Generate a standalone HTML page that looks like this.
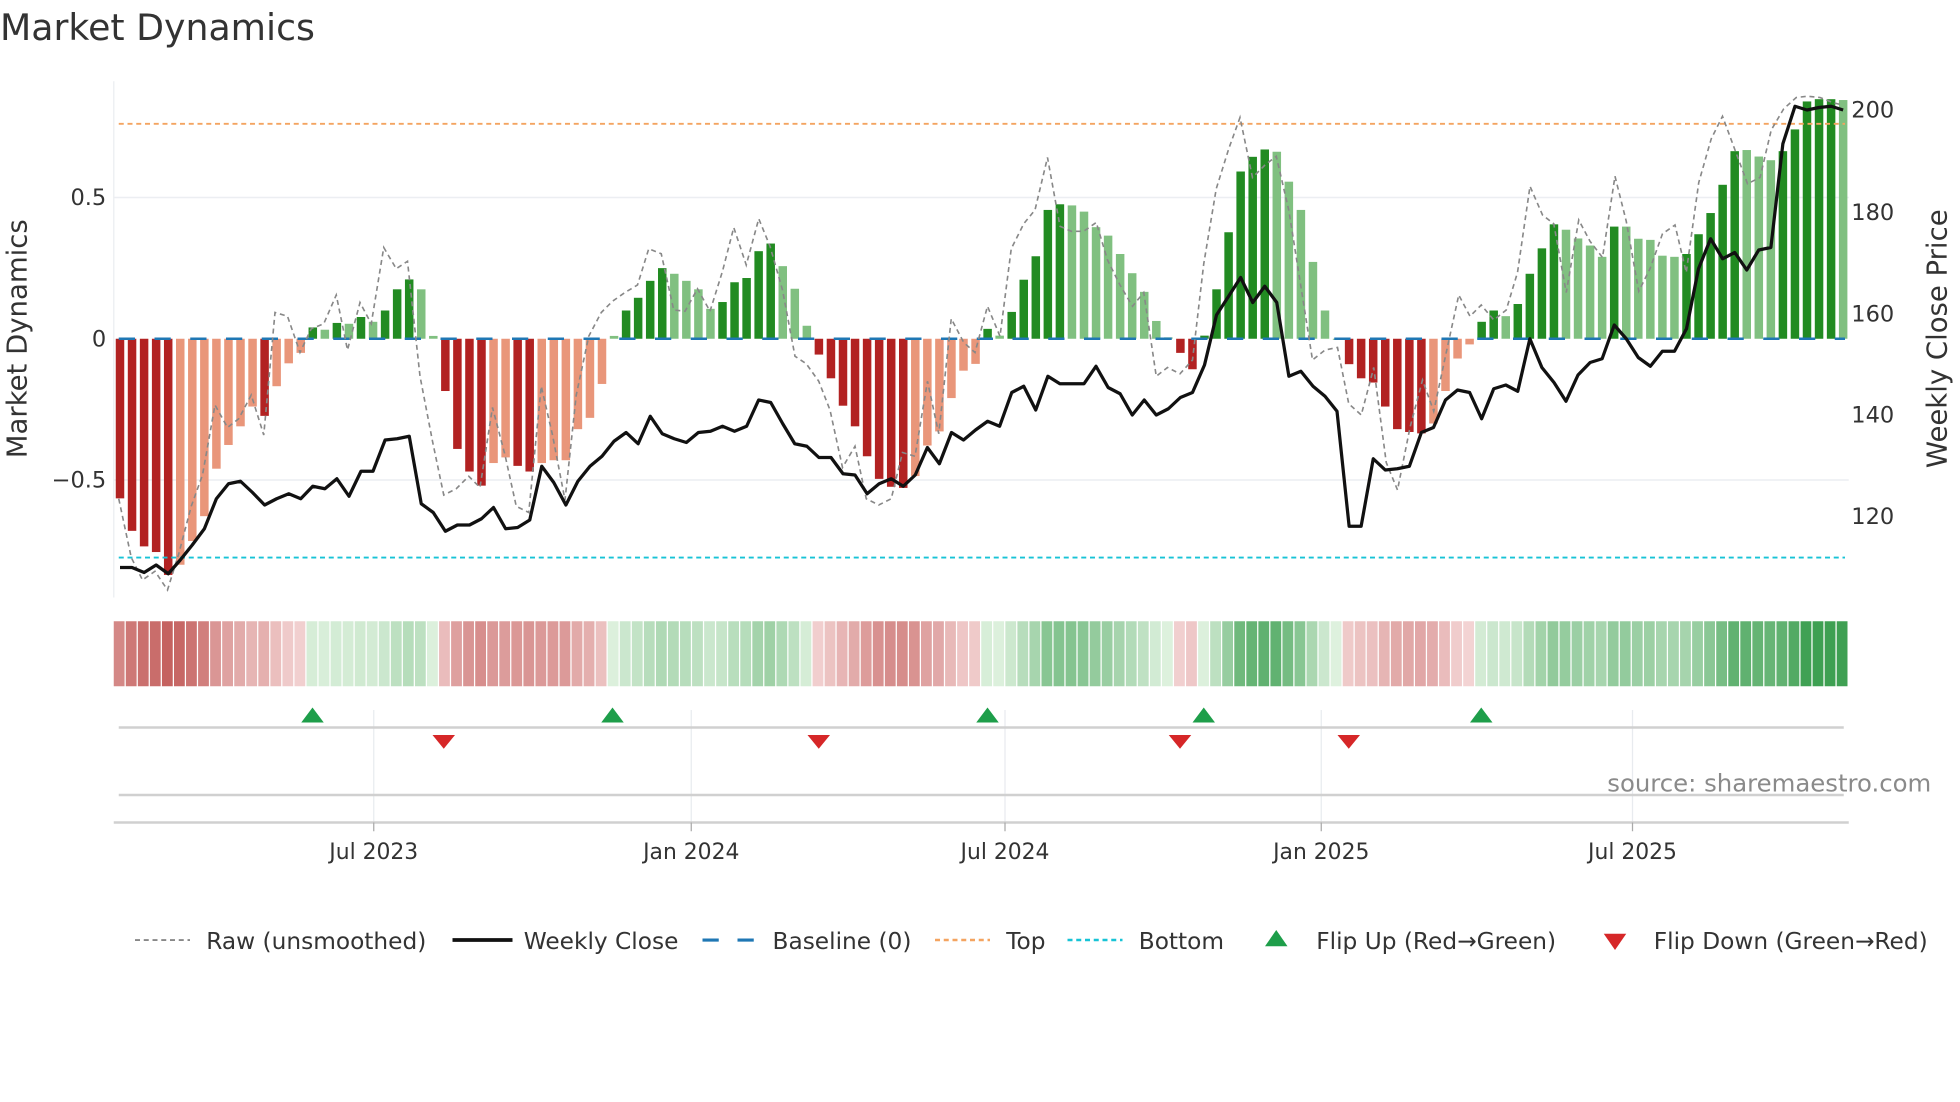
<!DOCTYPE html>
<html><head><meta charset="utf-8"><style>
html,body{margin:0;padding:0;background:#fff;}
svg{display:block;font-family:"DejaVu Sans","Liberation Sans",sans-serif;}
</style></head><body>
<svg id="s" width="1960" height="1102" viewBox="0 0 1568 881.6" xmlns="http://www.w3.org/2000/svg">
<rect width="1568" height="882" fill="#fff"/>
<text x="0" y="32" font-size="29" fill="#333">Market Dynamics</text>
<line x1="91" y1="65" x2="91" y2="478" stroke="#eef0f3" stroke-width="1.2"/>
<line x1="91" y1="158" x2="1479" y2="158" stroke="#eceef2" stroke-width="1.2"/>
<line x1="91" y1="384" x2="1479" y2="384" stroke="#eceef2" stroke-width="1.2"/>
<g id="bars"></g>
<line x1="95" y1="271" x2="1476" y2="271" stroke="#1f77b4" stroke-width="2" stroke-dasharray="13,15.6"/>
<line x1="95" y1="99" x2="1476" y2="99" stroke="#f4a460" stroke-width="1.5" stroke-dasharray="4,3"/>
<line x1="95" y1="446" x2="1476" y2="446" stroke="#17c3d6" stroke-width="1.5" stroke-dasharray="4,3"/>
<polyline id="raw" fill="none" stroke="#888" stroke-width="1.3" stroke-dasharray="4,3"/>
<polyline id="px" fill="none" stroke="#111" stroke-width="2.6" stroke-linejoin="round"/>
<g font-size="18" fill="#333">
<text x="85" y="164" text-anchor="end">0.5</text>
<text x="85" y="277" text-anchor="end">0</text>
<text x="85" y="390" text-anchor="end">−0.5</text>
<text x="1481" y="94">200</text>
<text x="1481" y="176">180</text>
<text x="1481" y="257">160</text>
<text x="1481" y="338">140</text>
<text x="1481" y="419">120</text>
</g>
<text transform="translate(21,271) rotate(-90)" text-anchor="middle" font-size="22" fill="#333">Market Dynamics</text>
<text transform="translate(1557,271) rotate(-90)" text-anchor="middle" font-size="22" fill="#333">Weekly Close Price</text>
<g id="heat"></g>
<g stroke="#e8ebef" stroke-width="1">
<line x1="299" y1="568" x2="299" y2="658"/><line x1="553" y1="568" x2="553" y2="658"/><line x1="804" y1="568" x2="804" y2="658"/><line x1="1057" y1="568" x2="1057" y2="658"/><line x1="1306" y1="568" x2="1306" y2="658"/>
</g>
<line x1="95" y1="582" x2="1475" y2="582" stroke="#d0d0d0" stroke-width="2"/>
<line x1="95" y1="636" x2="1475" y2="636" stroke="#d0d0d0" stroke-width="2"/>
<line x1="91" y1="658" x2="1479" y2="658" stroke="#d0d0d0" stroke-width="2"/>
<g stroke="#aaa" stroke-width="1">
<line x1="299" y1="658" x2="299" y2="665"/><line x1="553" y1="658" x2="553" y2="665"/><line x1="804" y1="658" x2="804" y2="665"/><line x1="1057" y1="658" x2="1057" y2="665"/><line x1="1306" y1="658" x2="1306" y2="665"/>
</g>
<g id="mk"></g>
<g font-size="17.5" fill="#333" text-anchor="middle">
<text x="299" y="687">Jul 2023</text><text x="553" y="687">Jan 2024</text><text x="804" y="687">Jul 2024</text><text x="1057" y="687">Jan 2025</text><text x="1306" y="687">Jul 2025</text>
</g>
<text x="1545" y="633" text-anchor="end" font-size="19.5" fill="#8a8a8a">source: sharemaestro.com</text>
<g font-size="18.6" fill="#333">
<line x1="108" y1="752" x2="152" y2="752" stroke="#888" stroke-width="1.5" stroke-dasharray="4,3"/>
<text x="165" y="759">Raw (unsmoothed)</text>
<line x1="362" y1="752" x2="410" y2="752" stroke="#111" stroke-width="3"/>
<text x="419" y="759">Weekly Close</text>
<line x1="562" y1="752" x2="606" y2="752" stroke="#1f77b4" stroke-width="2.5" stroke-dasharray="13,15"/>
<text x="618" y="759">Baseline (0)</text>
<line x1="748" y1="752" x2="792" y2="752" stroke="#f4a460" stroke-width="2" stroke-dasharray="4,3"/>
<text x="805" y="759">Top</text>
<line x1="854" y1="752" x2="898" y2="752" stroke="#17c3d6" stroke-width="2" stroke-dasharray="4,3"/>
<text x="911" y="759">Bottom</text>
<polygon points="1012,757 1030,757 1021,744" fill="#1e9e4a"/>
<text x="1053" y="759">Flip Up (Red→Green)</text>
<polygon points="1283,747 1301,747 1292,760" fill="#d62728"/>
<text x="1323" y="759">Flip Down (Green→Red)</text>
</g>
</svg>
<script>
var v=[-0.565,-0.68,-0.735,-0.755,-0.836,-0.80,-0.716,-0.628,-0.46,-0.376,-0.31,-0.24,-0.273,-0.168,-0.087,-0.05,0.04,0.032,0.056,0.053,0.077,0.06,0.10,0.175,0.21,0.175,0.01,-0.185,-0.39,-0.47,-0.52,-0.44,-0.42,-0.45,-0.47,-0.44,-0.43,-0.43,-0.32,-0.28,-0.16,0.01,0.10,0.145,0.205,0.25,0.23,0.205,0.175,0.106,0.13,0.20,0.215,0.31,0.337,0.257,0.177,0.046,-0.056,-0.14,-0.237,-0.31,-0.416,-0.496,-0.524,-0.528,-0.486,-0.378,-0.328,-0.21,-0.113,-0.089,0.035,0.011,0.095,0.209,0.292,0.456,0.476,0.472,0.45,0.395,0.365,0.30,0.232,0.166,0.063,0.005,-0.05,-0.108,0.011,0.175,0.377,0.592,0.644,0.67,0.662,0.556,0.456,0.272,0.10,0,-0.09,-0.14,-0.155,-0.24,-0.32,-0.33,-0.335,-0.30,-0.185,-0.07,-0.02,0.06,0.10,0.08,0.123,0.23,0.32,0.405,0.386,0.355,0.33,0.29,0.397,0.397,0.354,0.35,0.294,0.29,0.30,0.37,0.445,0.545,0.664,0.668,0.645,0.632,0.664,0.741,0.84,0.848,0.848,0.845];
var Ls=[[5,11],[13,15],[17,17],[19,19],[21,21],[25,26],[31,32],[35,41],[46,49],[55,57],[66,71],[73,73],[79,87],[96,101],[109,112],[115,115],[120,123],[125,129],[135,137],[143,143]];
function isL(i){for(var k=0;k<Ls.length;k++)if(i>=Ls[k][0]&&i<=Ls[k][1])return true;return false;}
var py=[454,454,458,452,459,448,436,423,399,387,385,394,404,399,395,399,389,391,383,397,377,377,352,351,349,403,410,425,420,420,415,406,423,422,416,373,386,404,385,373,365,353,346,355,333,347,351,354,346,345,341,345,341,320,322,339,355,357,366,366,379,380,395,387,383,389,380,358,371,346,352,344,337,341,314,309,328,301,307,307,307,293,310,315,332,320,332,327,318,314,292,252,237,222,242,229,242,301,297,309,317,329,421,421,367,376,375,373,346,342,320,312,314,335,311,308,313,271,294,306,321,300,290,287,260,271,286,293,281,281,263,215,191,207,202,216,200,198,115,85,88,86,85,88];
var raw=[95,399,105,446,114,464,124,457,134,472,143,443,153,405,162,380,172,324,182,342,191,335,201,316,211,348,220,250,230,253,240,282,249,263,259,259,269,236,278,280,288,242,297,259,307,198,317,215,326,209,336,301,346,353,355,396,365,391,375,381,384,390,394,326,404,364,413,405,423,410,433,309,442,348,452,400,461,316,471,269,481,250,490,241,500,234,510,228,519,199,529,203,539,248,548,249,558,231,568,249,578,217,587,182,597,212,607,175,616,197,626,232,636,285,645,291,655,305,664,328,674,374,684,357,693,399,703,404,713,399,722,362,732,365,742,305,751,347,761,255,771,274,780,282,790,245,800,269,809,199,819,179,828,168,838,126,848,181,857,185,867,185,877,178,886,208,896,228,906,245,915,234,925,301,934,294,944,299,954,288,963,211,973,151,983,119,992,94,1002,142,1012,132,1021,125,1031,168,1041,231,1050,288,1060,280,1070,278,1079,323,1089,332,1099,294,1109,370,1118,392,1128,342,1138,304,1147,329,1157,282,1167,236,1176,253,1185,244,1195,256,1205,248,1214,218,1224,149,1234,172,1243,179,1253,234,1263,176,1272,193,1282,206,1292,141,1301,177,1311,233,1320,215,1330,187,1340,180,1349,218,1359,146,1369,111,1378,93,1388,120,1398,147,1408,142,1417,104,1427,87,1437,78,1446,77,1456,78,1466,82,1474,84];
var NS="http://www.w3.org/2000/svg";
function el(n,a,p){var e=document.createElementNS(NS,n);for(var k in a)e.setAttribute(k,a[k]);p.appendChild(e);return e;}
var bars=document.getElementById('bars'),heat=document.getElementById('heat');
var step=9.64,x0=96;
function mix(a,b,t){return 'rgb('+[0,1,2].map(function(k){return Math.round(a[k]+(b[k]-a[k])*t);}).join(',')+')';}
for(var i=0;i<v.length;i++){
 var cx=x0+step*i,h=v[i]*226,l=isL(i);
 var col=v[i]>=0?(l?'#80c080':'#228b22'):(l?'#e9967a':'#b22222');
 var y=h>=0?271-h:271;
 el('rect',{x:cx-3.4,y:y,width:6.8,height:Math.max(Math.abs(h),0.8),fill:col},bars);
 var t=Math.min(Math.abs(v[i])/0.85,1);
 var hc=v[i]>=0?mix([222,241,222],[62,160,82],t):mix([244,214,214],[196,96,94],t);
 var hx=91+i*(1388/144);
 el('rect',{x:hx,y:497,width:1388/144-1,height:52,fill:hc},heat);
}
var pts=[];for(var i=0;i<py.length;i++)pts.push((x0+step*i).toFixed(1)+','+py[i]);
document.getElementById('px').setAttribute('points',pts.join(' '));
var rp=[];for(var i=0;i<raw.length;i+=2)rp.push(raw[i]+','+raw[i+1]);
document.getElementById('raw').setAttribute('points',rp.join(' '));
var mk=document.getElementById('mk');
[250,490,790,963,1185].forEach(function(x){el('polygon',{points:(x-9)+',578 '+(x+9)+',578 '+x+',566',fill:'#1e9e4a'},mk);});
[355,655,944,1079].forEach(function(x){el('polygon',{points:(x-9)+',588 '+(x+9)+',588 '+x+',599',fill:'#d62728'},mk);});
</script>
</body></html>
